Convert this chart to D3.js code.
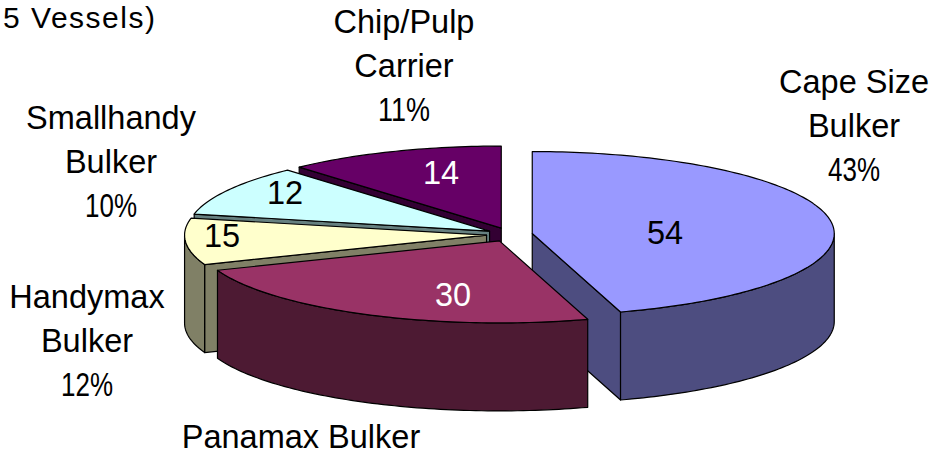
<!DOCTYPE html>
<html>
<head>
<meta charset="utf-8">
<script src="https://cdn.jsdelivr.net/npm/d3@7"></script>
<style>
  html, body { margin: 0; padding: 0; background: #fff; overflow: hidden; }
  text { font-family: "Liberation Sans", Arial, sans-serif; font-size: 32.5px; }
</style>
</head>
<body>
<svg id="chart" width="929" height="456"></svg>
<script>
/* Data */
var categories = ["Cape Size Bulker", "Panamax Bulker", "Handymax Bulker", "Smallhandy Bulker", "Chip/Pulp Carrier"];
var vessels = [54, 30, 15, 12, 14];

/* Colours, same order as the categories */
var topColors = ["#9999ff", "#993366", "#ffffcc", "#ccffff", "#660066"];
var sideColors = ["#4d4d80", "#4d1a33", "#808066", "#668080", "#330033"];
var valueColors = ["#000", "#fff", "#000", "#000", "#fff"];

/* Pie geometry */
var centerX = 509.5, centerY = 234.6;
var radiusX = 302, radiusY = 82, depth = 88;
var explodeX = 23, explodeY = 7;

//The tilted pie in the picture skews the slices a bit, so true angles go through this
var viewAngles = [0, 163, 249, 282, 318, 360];

/* Text placement */
var valuePos = [[665, 233], [453, 295], [222, 236], [285, 193], [441, 173]];
var labelPos = [
  {x: 854, y: 82, lines: ["Cape Size", "Bulker"]},
  {x: 301, y: 437, lines: ["Panamax Bulker"], noPercent: true}, //percent falls outside the crop
  {x: 87, y: 297, lines: ["Handymax", "Bulker"]},
  {x: 111, y: 118, lines: ["Smallhandy", "Bulker"]},
  {x: 404, y: 22, lines: ["Chip/Pulp", "Carrier"]}
];
var lineHeight = 44;
var percentWidth = 52; //the % sign is narrow in the original font

var svg = d3.select("#chart");
var total = d3.sum(vessels);
var percent = d3.format(".0%");

var slices = d3.pie().sort(null)(vessels);
var trueAngles = slices.map(function (d) { return d.startAngle; }).concat(2 * Math.PI);
var toView = d3.scaleLinear()
  .domain(trueAngles)
  .range(viewAngles.map(function (d) { return d * Math.PI / 180; }));

//Rim point of a slice, clockwise from 12 o'clock
function rim(apex, angle, drop) {
  return [apex[0] + radiusX * Math.sin(angle), apex[1] - radiusY * Math.cos(angle) + (drop || 0)];
}

function arcPoints(apex, from, to, drop) {
  var n = Math.max(2, Math.ceil(Math.abs(to - from) / 0.02));
  return d3.range(n + 1).map(function (i) {
    return rim(apex, from + (to - from) * i / n, drop);
  });
}

var shapes = slices.map(function (s, i) {
  var a0 = toView(s.startAngle), a1 = toView(s.endAngle);
  var mid = (a0 + a1) / 2;
  var apex = [centerX + explodeX * Math.sin(mid), centerY - explodeY * Math.cos(mid)];
  return {i: i, a0: a0, a1: a1, apex: apex};
});

var line = d3.line();
function poly(points) { return line(points) + "Z"; }

//Radial wall from the apex out to the rim, pushed down by the depth
function wallPoints(d, angle) {
  var p = rim(d.apex, angle);
  return [d.apex, p, [p[0], p[1] + depth], [d.apex[0], d.apex[1] + depth]];
}

//Back to front: the exploded front slices sit over the rear ones
var drawOrder = [4, 3, 2, 0, 1];

var groups = svg.selectAll("g.slice")
  .data(drawOrder.map(function (i) { return shapes[i]; }))
  .enter().append("g")
  .attr("class", "slice")
  .attr("stroke", "#000")
  .attr("stroke-width", 1.2)
  .attr("stroke-linejoin", "round");

groups.each(function (d) {
  var g = d3.select(this);
  var side = sideColors[d.i];

  //Only walls that face the viewer
  if (Math.sin(d.a0) < -0.01) {
    g.append("path").attr("d", poly(wallPoints(d, d.a0))).attr("fill", side);
  }
  if (Math.sin(d.a1) > 0.01) {
    g.append("path").attr("d", poly(wallPoints(d, d.a1))).attr("fill", side);
  }

  //Outer skin, only on the near half of the pie
  var from = Math.max(d.a0, Math.PI / 2), to = Math.min(d.a1, 1.5 * Math.PI);
  if (to > from) {
    var skin = arcPoints(d.apex, from, to).concat(arcPoints(d.apex, to, from, depth));
    g.append("path").attr("d", poly(skin)).attr("fill", side);
  }

  //Top face
  var top = [d.apex].concat(arcPoints(d.apex, d.a0, d.a1));
  g.append("path").attr("d", poly(top)).attr("fill", topColors[d.i]);
});

/* Value labels on the slices */
svg.selectAll("text.value")
  .data(vessels)
  .enter().append("text")
  .attr("class", "value")
  .attr("x", function (d, i) { return valuePos[i][0]; })
  .attr("y", function (d, i) { return valuePos[i][1]; })
  .attr("text-anchor", "middle")
  .attr("dominant-baseline", "central")
  .attr("fill", function (d, i) { return valueColors[i]; })
  .text(function (d) { return d; });

/* Category labels with share */
labelPos.forEach(function (p, i) {
  p.lines.forEach(function (row, r) {
    svg.append("text")
      .attr("class", "label")
      .attr("x", p.x)
      .attr("y", p.y + r * lineHeight)
      .attr("text-anchor", "middle")
      .attr("dominant-baseline", "central")
      .attr("fill", "#000")
      .text(row);
  });
  if (!p.noPercent) {
    svg.append("text")
      .attr("class", "label")
      .attr("x", p.x)
      .attr("y", p.y + p.lines.length * lineHeight)
      .attr("text-anchor", "middle")
      .attr("dominant-baseline", "central")
      .attr("textLength", percentWidth)
      .attr("lengthAdjust", "spacingAndGlyphs")
      .attr("fill", "#000")
      .text(percent(vessels[i] / total));
  }
});

/* What is left of the title after the crop */
svg.append("text")
  .attr("x", 3)
  .attr("y", 28)
  .attr("textLength", 152)
  .attr("lengthAdjust", "spacing")
  .style("font-size", "30px")
  .attr("fill", "#000")
  .text("5 Vessels)");
</script>
</body>
</html>
